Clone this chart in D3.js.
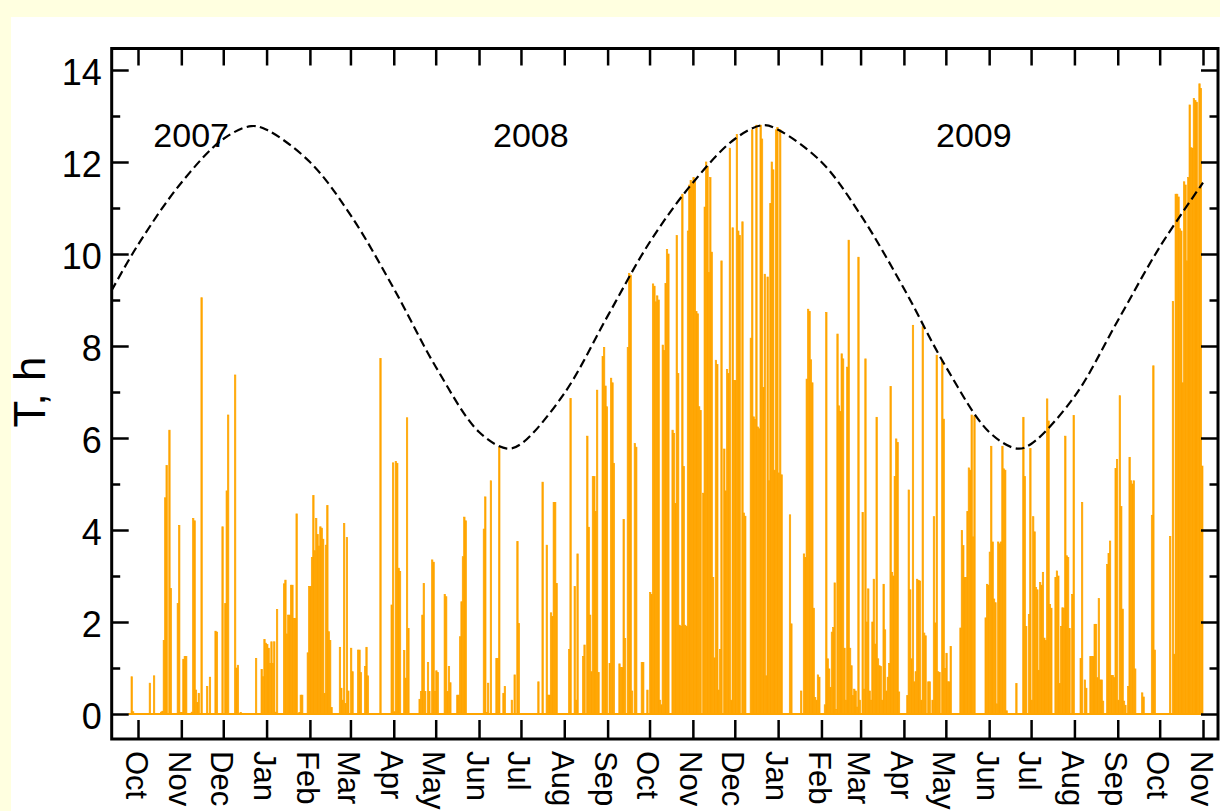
<!DOCTYPE html>
<html>
<head>
<meta charset="utf-8">
<script src="https://cdn.jsdelivr.net/npm/d3@7"></script>
<style>
  html, body { margin: 0; padding: 0; background: #fff; }
  svg { display: block; }
</style>
</head>
<body>
<svg id="chart" width="1220" height="811"></svg>
<script>
// Daily observing time (hours), one array per month, starting 2007-09-24.
const seriesStart = "2007-09-24";
const sep2007 = [0, 0, 0.81, 0.05, 0, 0, 0];
const oct2007 = [0,0,0,0,0,0,0,0,0.67,0,0,0.83,0,0,0,0,0.04,0.06,1.6,4.7,5.4,0,6.17,2.73,0,0,0,0,2.4,4.1,0.03];
const nov2007 = [0.03,1.19,1.25,1.25,0,0,0,0.04,4.25,4.2,0.52,0.25,0.45,0,9.05,0,0,0,0.6,0,0.8,0,0,0,1.8,1.78,0,0,0,4.07];
const dec2007 = [0,2.4,4.85,6.5,0,0,0,0,7.37,1.0,1.06,0,0.03,0,0,0,0,0,0,0,0,0,0,1.21,0,0,0,0.97,0.81,1.62,1.54];
const jan2008 = [1.51,1.43,1.1,1.57,1.1,1.57,0.04,2.27,0,0,0,0,2.83,2.91,1.74,2.15,2.15,2.8,2.8,2.08,2.08,4.35,0,0.03,0.41,0.41,0,0,0,1.33,2.77];
const feb2008 = [2.77,3.4,4.75,3.55,4.25,3.9,3.65,4.07,4.04,3.8,0.45,3.67,4.53,1.79,1.6,0.14,0,0,0,0,0,1.45,0.56,0.3,4.14,0.23,3.84,0.5,0];
const mar2008 = [1.43,0.92,0,0,0,1.39,1.39,0.9,0,0,1.03,1.45,0.83,0,0,0,0,0,0,0,0,7.73,0,0,0,0,0,0,0,2.37,5.46];
const apr2008 = [0.05,5.49,5.45,3.17,3.1,0,0,1.38,0.78,6.44,1.86,0,0,0,0,0,0,0,0.32,0.49,2.15,2.84,0.49,0,1.12,0.49,0,3.35,3.3,0.49];
const may2008 = [0.94,0.9,0,0,0,0,2.6,2.55,0.49,1.03,0.68,0,0,0,0,0.41,0.41,1.68,2.44,3.42,4.28,4.2,0,0,0,0,0,0,0,0,0];
const jun2008 = [0,0,0,4.02,4.72,0.03,0.67,0,5.07,0,0,0,1.21,1.21,5.8,0,0,0.45,0.6,0,0,0,0,0.3,0,0.85,0,3.75,1.97,0];
const jul2008 = [0,0,0,0,0,0,0,0,0,0,0,0,0.7,0,0,5.04,0,0,3.67,0.41,0.41,2.2,2.12,4.6,4.6,2.84,0,0,0,0,0];
const aug2008 = [0,0,0,1.4,6.86,0,0,2.77,0.3,3.48,0,0,0,1.25,1.5,0,6.04,4.06,2.15,0.92,5.16,5.16,4.4,7.04,0.9,0,0,7.77,7.97,7.13,6.68];
const sep2008 = [0,1.1,7.3,7.2,5.45,0,0,0,1.09,1.01,1.01,4.23,1.64,0,7.97,9.58,9.54,0.5,0,5.88,5.8,0,0,0,1.12,1.12,0,0,0.52,0];
const oct2008 = [2.64,2.6,9.35,9.3,8.96,9.09,9.0,0.3,0.2,8.02,7.9,9.36,10.1,10.0,0,0,6.17,6.1,4.58,10.4,7.4,1.93,1.9,11.3,5.38,1.93,1.9,10.5,11.5,11.6,11.55];
const nov2008 = [11.66,11.6,8.75,8.7,6.68,6.6,0,4.8,11.02,12.0,11.9,9.6,11.66,10.04,2.97,1.22,7.69,7.6,0.52,1.4,9.85,0,5.76,4.85,7.49,7.4,12.3,0.3,10.57,7.25];
const dec2008 = [7.25,12.6,10.5,10.4,0,10.7,4.37,4.3,0,0,0,8.17,12.7,6.46,6.4,12.8,6.24,6.2,12.8,12.5,7.1,9.56,0.83,9.5,5.07,11.1,12.0,11.83,5.3,12.7,12.75];
const jan2009 = [5.24,12.7,5.2,0,0,0,0,0,4.33,1.96,0,0,0,0,0,0,0.5,0,3.48,3.4,7.28,8.8,8.75,7.7,7.2,2.3,0.36,0.3,0.85,0.8,0];
const feb2009 = [0,0,0.2,8.73,1.2,0.98,0.58,1.78,1.88,2.85,0.1,8.26,6.7,6.58,7.83,7.72,1.43,0.3,7.54,10.3,1.43,1.05,0.4,0.54,0.5,0.15,9.93,0.3];
const mar2009 = [0,4.38,0.54,7.72,2.0,2.72,0.5,0.3,2.0,2.93,1.52,6.45,1.2,1.05,1.03,0.3,2.82,1.83,0.5,0.8,1.1,7.12,3.08,3.0,5.16,5.98,5.9,0.48,0,0,0];
const apr2009 = [0,0,0.4,4.87,2.7,1.2,8.45,0.7,0.92,2.93,2.9,2.89,0.3,8.42,1.76,1.7,0,0.7,0.7,0,0.3,4.29,1.98,7.8,0.92,0.9,0,7.67,6.41,0.99];
const may2009 = [1.32,0.7,0.7,1.47,0,0,0,0,0,0,1.87,3.99,3.66,2.97,2.97,4.4,5.35,5.3,6.5,3.85,6.48,0,0,0,0,0,0,0,2.09,2.82,2.8];
const jun2009 = [3.52,5.82,3.74,2.5,2.42,0.22,3.74,3.7,3.74,5.82,5.33,5.3,0.07,0,0,0,0,0,0,0.66,0,0,0,0,6.45,5.16,1.9,0,2.16,5.77];
const jul2009 = [0.3,4.29,3.96,2.75,2.7,0.95,2.86,2.8,3.08,1.65,1.6,6.85,6.37,2.38,2.3,0,0,2.97,3.11,3.0,0.66,1.9,2.31,2.3,6.04,3.44,3.4,1.86,0,2.6,6.49];
const aug2009 = [0,0,0,0,1.21,4.6,0,0.74,0.56,0,0,1.25,1.25,1.25,1.95,1.95,0.79,2.51,0.74,0.74,0.28,0,0,3.25,3.49,3.76,0.84,0.84,0.79,5.34,5.53];
const sep2009 = [0.3,6.92,4.51,2.28,0.28,0.19,0,0.6,5.58,5.07,5.0,5.07,0.98,0,0,0,0,0.46,0.37,0,0,0,0,0,4.32,7.57,1.39,0,0,0];
const oct2009 = [0,0,0,0,0,0,0,3.86,0,8.97,1.3,11.3,11.3,11.24,10.55,10.5,7.2,11.57,11.5,9.85,11.66,13.24,12.31,12.3,13.38,13.34,13.3,11.43,13.7,13.6,5.39];

const monthlyHours = [
  sep2007, oct2007, nov2007, dec2007,
  jan2008, feb2008, mar2008, apr2008, may2008, jun2008,
  jul2008, aug2008, sep2008, oct2008, nov2008, dec2008,
  jan2009, feb2009, mar2009, apr2009, may2009, jun2009,
  jul2009, aug2009, sep2009, oct2009
];

// Longest possible observing time per night (dashed envelope).
const limitDates = [
  "2007-09-12","2007-10-01","2007-11-01","2007-12-01","2007-12-21",
  "2008-01-01","2008-02-01","2008-03-01","2008-04-01","2008-05-01","2008-06-01","2008-06-21",
  "2008-07-01","2008-08-01","2008-09-01","2008-10-01","2008-11-01","2008-12-01","2008-12-21",
  "2009-01-01","2009-02-01","2009-03-01","2009-04-01","2009-05-01","2009-06-01","2009-06-21",
  "2009-07-01","2009-08-01","2009-09-01","2009-10-01","2009-11-01"
];
const limitHours = [
  9.2, 10.2, 11.55, 12.5, 12.78,
  12.7, 12.0, 10.85, 9.25, 7.55, 6.13, 5.77,
  5.87, 6.97, 8.65, 10.25, 11.55, 12.5, 12.8,
  12.7, 12.0, 10.85, 9.25, 7.55, 6.13, 5.77,
  5.87, 6.9, 8.55, 10.15, 11.55
];

const yMajorTicks = [0, 2, 4, 6, 8, 10, 12, 14];
const yMinorTicks = [1, 3, 5, 7, 9, 11, 13];
const yearLabels = ["2007", "2008", "2009"];
const yearLabelDates = ["2007-10-12", "2008-06-11", "2009-04-24"];

// ---- layout ----
const W = 1220, H = 811;
const FONT = "'Liberation Sans', Arial, Helvetica, sans-serif";
const frame = { left: 111.7, right: 1218, top: 48.5, bottom: 739 };
const BAR = "#ffa500";

const parse = d3.utcParse("%Y-%m-%d");
const x = d3.scaleUtc()
  .domain([parse("2007-10-01"), parse("2009-11-01")])
  .range([138, 1203]);
const y = d3.scaleLinear().domain([0, 14]).range([714, 70]);

const svg = d3.select("#chart");

// page background: pale yellow margin with a white panel
svg.append("rect").attr("width", W).attr("height", H).attr("fill", "#ffffe0");
svg.append("rect").attr("x", 11).attr("y", 17).attr("width", W - 11).attr("height", H - 17).attr("fill", "#ffffff");

svg.append("defs").append("clipPath").attr("id", "plot-area")
  .append("rect")
  .attr("x", frame.left).attr("y", frame.top)
  .attr("width", frame.right - frame.left).attr("height", frame.bottom - frame.top);

// flatten the monthly arrays into a daily series
const start = parse(seriesStart);
const daily = monthlyHours.flat().map((v, i) => ({ date: d3.utcDay.offset(start, i), value: v }));

const plot = svg.append("g").attr("clip-path", "url(#plot-area)");

plot.append("g").selectAll("rect")
  .data(daily.filter(d => d.value > 0))
  .join("rect")
  .attr("x", d => x(d.date))
  .attr("width", d => x(d3.utcDay.offset(d.date, 1)) - x(d.date))
  .attr("y", d => y(d.value))
  .attr("height", d => y(0) - y(d.value))
  .attr("fill", BAR)
  .attr("stroke", BAR)
  .attr("stroke-width", 0.7);

// zero line under the bars over the observed period
const lastDay = d3.utcDay.offset(daily[daily.length - 1].date, 1);
plot.append("line")
  .attr("x1", x(daily[0].date)).attr("x2", x(lastDay))
  .attr("y1", y(0)).attr("y2", y(0))
  .attr("stroke", BAR).attr("stroke-width", 1.8);

// year labels
svg.append("g").selectAll("text")
  .data(yearLabels)
  .join("text")
  .attr("x", (d, i) => x(parse(yearLabelDates[i])))
  .attr("y", 147)
  .attr("font-family", FONT)
  .attr("font-size", 34)
  .attr("fill", "#000")
  .text(d => d);

// dashed envelope
const limit = limitDates.map((d, i) => ({ date: parse(d), value: limitHours[i] }));
plot.append("path")
  .datum(limit)
  .attr("fill", "none")
  .attr("stroke", "#000")
  .attr("stroke-width", 2.2)
  .attr("stroke-dasharray", "9,4.5")
  .attr("d", d3.line().x(d => x(d.date)).y(d => y(d.value)).curve(d3.curveCatmullRom.alpha(0.5)));

// ---- axes ----
const monthTicks = d3.utcMonth.range(parse("2007-10-01"), parse("2009-11-02"));

function styleAxis(g) {
  g.select(".domain").remove();
  g.selectAll("line").attr("stroke", "#000").attr("stroke-width", 2.5);
  g.attr("font-family", FONT);
}

const bottom = svg.append("g")
  .attr("transform", `translate(0,${frame.bottom})`)
  .call(d3.axisBottom(x).tickValues(monthTicks).tickSize(-19).tickPadding(0).tickFormat(d3.utcFormat("%b")))
  .call(styleAxis)
  .attr("font-size", 31);
bottom.selectAll("text")
  .attr("x", 0).attr("y", 0).attr("dy", null)
  .attr("text-anchor", "start")
  .attr("fill", "#000")
  .attr("transform", "translate(-13,12) rotate(90)");

svg.append("g")
  .attr("transform", `translate(0,${frame.top})`)
  .call(d3.axisTop(x).tickValues(monthTicks).tickSize(-17).tickFormat(""))
  .call(styleAxis);

const left = svg.append("g")
  .attr("transform", `translate(${frame.left},0)`)
  .call(d3.axisLeft(y).tickValues(yMajorTicks).tickSize(-17).tickPadding(10).tickFormat(d3.format("d")))
  .call(styleAxis)
  .attr("font-size", 36);
left.selectAll("text").attr("dy", "0.4em").attr("fill", "#000");

svg.append("g")
  .attr("transform", `translate(${frame.left},0)`)
  .call(d3.axisLeft(y).tickValues(yMinorTicks).tickSize(-8.5).tickFormat(""))
  .call(styleAxis);

svg.append("g")
  .attr("transform", `translate(${frame.right},0)`)
  .call(d3.axisRight(y).tickValues(yMajorTicks).tickSize(-17).tickFormat(""))
  .call(styleAxis);

svg.append("g")
  .attr("transform", `translate(${frame.right},0)`)
  .call(d3.axisRight(y).tickValues(yMinorTicks).tickSize(-8.5).tickFormat(""))
  .call(styleAxis);

// frame
svg.append("rect")
  .attr("x", frame.left).attr("y", frame.top)
  .attr("width", frame.right - frame.left).attr("height", frame.bottom - frame.top)
  .attr("fill", "none").attr("stroke", "#000").attr("stroke-width", 3);

// axis title
svg.append("text")
  .attr("transform", `translate(45,${(y(0) + y(14)) / 2}) rotate(-90)`)
  .attr("text-anchor", "middle")
  .attr("font-family", FONT)
  .attr("font-size", 44)
  .attr("fill", "#000")
  .text("T, h");
</script>
</body>
</html>
